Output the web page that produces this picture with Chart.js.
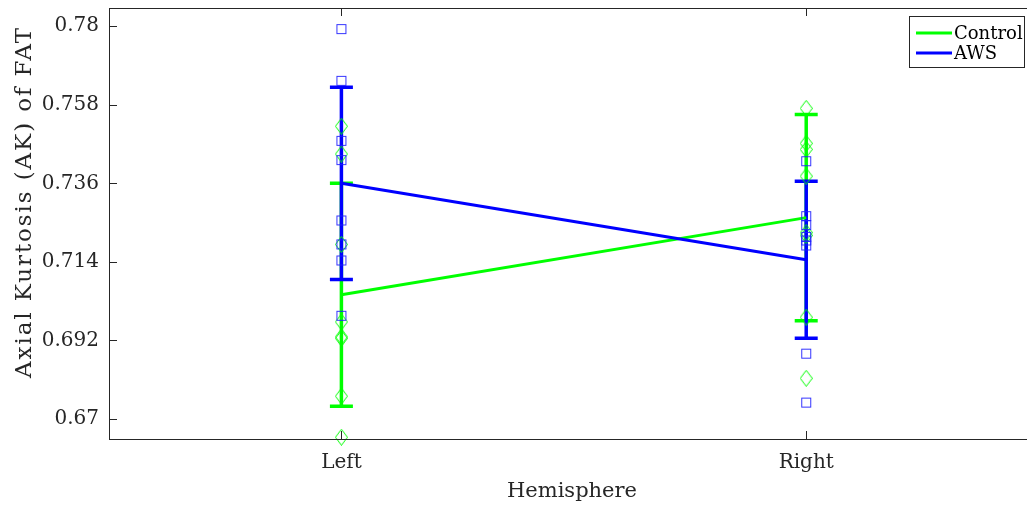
<!DOCTYPE html>
<html><head><meta charset="utf-8">
<script src="https://cdn.jsdelivr.net/npm/chart.js@4/dist/chart.umd.min.js"></script>
<style>html,body{margin:0;padding:0;background:#fff;overflow:hidden}#wrap{width:1027px;height:506px;position:relative}</style>
</head><body><div id="wrap"><canvas id="c" width="1027" height="506"></canvas></div>
<script>
const categories = ['Left', 'Right'];
const seriesNames = ['Control', 'AWS'];
const controlMean = [0.7048, 0.7264];
const controlErr = [0.0312, 0.0289];
const awsMean = [0.7360, 0.7146];
const awsErr = [0.0269, 0.0220];
const controlLeft = [0.7520, 0.7442, 0.7189, 0.6972, 0.6930, 0.6926, 0.6764, 0.6649];
const controlRight = [0.7570, 0.7472, 0.7455, 0.7380, 0.7222, 0.7214, 0.6985, 0.6814];
const awsLeft = [0.7792, 0.7647, 0.7479, 0.7425, 0.7256, 0.7189, 0.7144, 0.6989];
const awsRight = [0.7422, 0.7268, 0.7243, 0.7210, 0.7200, 0.7186, 0.6883, 0.6746];
const yTicks = [0.67, 0.692, 0.714, 0.736, 0.758, 0.78];
const xTitle = 'Hemisphere';
const yTitle = 'Axial Kurtosis (AK) of FAT';

const GREEN = '#00ff00', BLUE = '#0000ff', AX = '#262626';
const FONT = 'DejaVu Serif';

function makeSquare(color) {
  const c = document.createElement('canvas'); c.width = 12; c.height = 12;
  const g = c.getContext('2d'); g.strokeStyle = color; g.lineWidth = 1;
  g.strokeRect(1.5, 1.5, 9, 9); return c;
}
function makeDiamond(color) {
  const c = document.createElement('canvas'); c.width = 13; c.height = 17;
  const g = c.getContext('2d'); g.strokeStyle = color; g.lineWidth = 1;
  g.beginPath(); g.moveTo(6.5, 0.5); g.lineTo(12.5, 8.5); g.lineTo(6.5, 16.5); g.lineTo(0.5, 8.5); g.closePath(); g.stroke();
  return c;
}
const sq = makeSquare('rgba(30,30,255,0.9)');
const dm = makeDiamond('rgba(0,255,0,1)');

const pts = (arr, xv) => arr.map(v => ({x: xv, y: v}));
const meanPts = (arr) => arr.map((v, i) => ({x: i + 1, y: v}));

function drawErr(ctx, xs, ys, means, errs, color) {
  ctx.save(); ctx.strokeStyle = color; ctx.lineWidth = 3.5; ctx.lineCap = 'butt';
  means.forEach((m, i) => {
    const px = xs.getPixelForValue(i + 1);
    const lo = ys.getPixelForValue(m - errs[i]), hi = ys.getPixelForValue(m + errs[i]);
    ctx.beginPath();
    ctx.moveTo(px, lo); ctx.lineTo(px, hi);
    ctx.moveTo(px - 11.5, lo); ctx.lineTo(px + 11.5, lo);
    ctx.moveTo(px - 11.5, hi); ctx.lineTo(px + 11.5, hi);
    ctx.stroke();
  });
  ctx.restore();
}

const framePlugin = {
  id: 'frame',
  beforeDatasetsDraw(chart) {
    const {ctx, scales: {x, y}} = chart;
    drawErr(ctx, x, y, controlMean, controlErr, GREEN);
    drawErr(ctx, x, y, awsMean, awsErr, BLUE);
  },
  afterDraw(chart) {
    const {ctx, chartArea: a, scales: {x, y}} = chart;
    ctx.save();
    ctx.strokeStyle = AX; ctx.lineWidth = 1;
    ctx.beginPath();
    ctx.moveTo(a.left + 0.5, a.top + 0.5); ctx.lineTo(a.left + 0.5, a.bottom + 0.5);
    ctx.moveTo(a.left, a.bottom + 0.5); ctx.lineTo(a.right, a.bottom + 0.5);
    ctx.moveTo(a.left, a.top + 0.5); ctx.lineTo(a.right, a.top + 0.5);
    yTicks.forEach(v => { const py = Math.round(y.getPixelForValue(v)) + 0.5; ctx.moveTo(a.left, py); ctx.lineTo(a.left + 8, py); });
    categories.forEach((c, i) => {
      const px = Math.round(x.getPixelForValue(i + 1)) + 0.5;
      ctx.moveTo(px, a.bottom); ctx.lineTo(px, a.bottom - 8);
      ctx.moveTo(px, a.top); ctx.lineTo(px, a.top + 8);
    });
    ctx.stroke();
    // legend
    const lx = 909.5, ly = 16.5, lw = 115, lh = 51;
    ctx.fillStyle = '#fff'; ctx.fillRect(lx, ly, lw, lh);
    ctx.strokeStyle = AX; ctx.lineWidth = 1; ctx.strokeRect(lx, ly, lw, lh);
    const cols = [GREEN, BLUE];
    seriesNames.forEach((n, i) => {
      const yy = 33 + i * 20;
      ctx.strokeStyle = cols[i]; ctx.lineWidth = 3;
      ctx.beginPath(); ctx.moveTo(916, yy); ctx.lineTo(952, yy); ctx.stroke();
      ctx.fillStyle = '#000'; ctx.font = '18px "' + FONT + '"'; ctx.textBaseline = 'middle'; ctx.textAlign = 'left';
      ctx.fillText(n, 954, yy + 1);
    });
    // titles
    ctx.fillStyle = AX;
    ctx.font = '21px "' + FONT + '"'; ctx.textAlign = 'center'; ctx.textBaseline = 'alphabetic';
    ctx.fillText(xTitle, 572, 497);
    ctx.save();
    ctx.translate(31, 202); ctx.rotate(-Math.PI / 2);
    ctx.font = '23px "' + FONT + '"';
    try { ctx.letterSpacing = '1.9px'; } catch (e) {}
    ctx.textAlign = 'center'; ctx.textBaseline = 'alphabetic';
    ctx.fillText(yTitle, 0, 0);
    ctx.restore();
    ctx.restore();
  }
};

new Chart(document.getElementById('c'), {
  type: 'scatter',
  data: {
    datasets: [
      {type: 'line', label: seriesNames[0], data: meanPts(controlMean), borderColor: GREEN, borderWidth: 3, pointRadius: 0, fill: false, order: 4},
      {type: 'line', label: seriesNames[1], data: meanPts(awsMean), borderColor: BLUE, borderWidth: 3, pointRadius: 0, fill: false, order: 3},
      {label: 'Control pts', data: pts(controlLeft, 1).concat(pts(controlRight, 2)), pointStyle: dm, pointRadius: 6, borderColor: GREEN, backgroundColor: 'transparent', clip: false, order: 2},
      {label: 'AWS pts', data: pts(awsLeft, 1).concat(pts(awsRight, 2)), pointStyle: sq, pointRadius: 6, borderColor: BLUE, backgroundColor: 'transparent', clip: false, order: 1}
    ]
  },
  options: {
    responsive: false, animation: false, devicePixelRatio: 1,
    layout: {autoPadding: false, padding: {top: 8, right: 0, left: 0, bottom: 0}},
    plugins: {legend: {display: false}, tooltip: {enabled: false}},
    scales: {
      x: {
        type: 'linear', min: 0.5, max: 2.475,
        grid: {display: false, drawTicks: false}, border: {display: false},
        afterBuildTicks: s => { s.ticks = categories.map((c, i) => ({value: i + 1})); },
        afterFit: s => { s.height = 67; s.paddingLeft = 0; s.paddingRight = 0; },
        ticks: {padding: 12, color: AX, font: {family: FONT, size: 20}, callback: v => categories[Math.round(v) - 1]}
      },
      y: {
        min: 0.6644, max: 0.7851,
        grid: {display: false, drawTicks: false}, border: {display: false},
        afterBuildTicks: s => { s.ticks = yTicks.map(v => ({value: v})); },
        afterFit: s => { s.width = 109; s.paddingTop = 0; s.paddingBottom = 0; },
        ticks: {padding: 10, color: AX, font: {family: FONT, size: 20}, callback: v => String(v)}
      }
    }
  },
  plugins: [framePlugin]
});
</script></body></html>
